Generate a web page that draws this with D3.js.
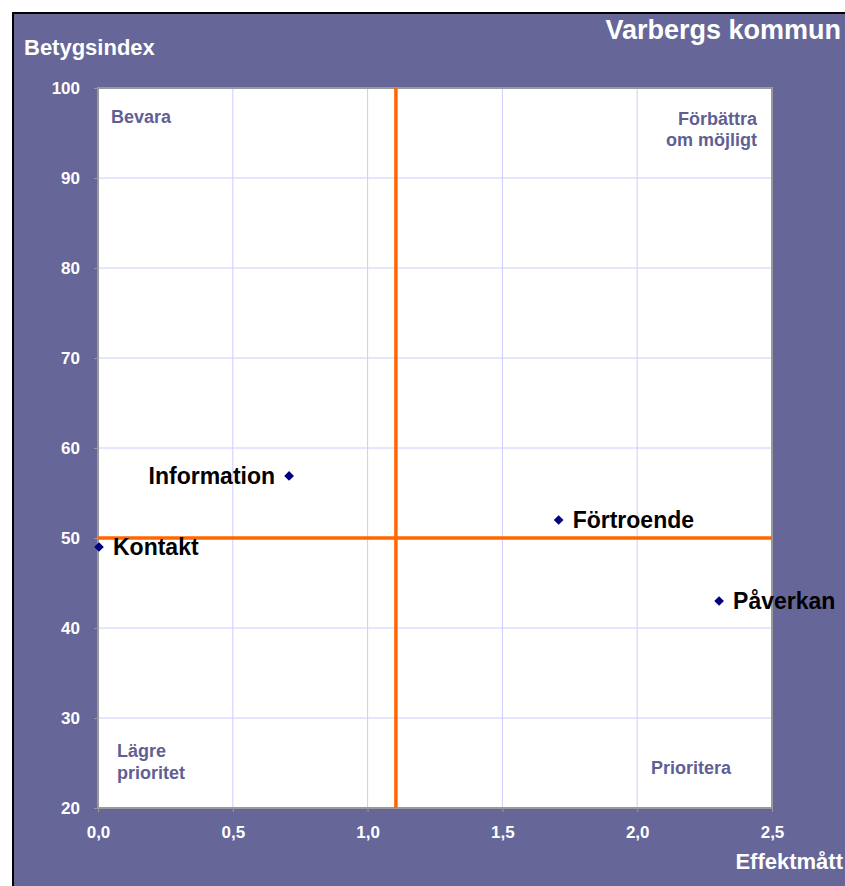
<!DOCTYPE html>
<html>
<head>
<meta charset="utf-8">
<script src="https://cdn.jsdelivr.net/npm/d3@7"></script>
<style>
  body { margin: 0; background: #fff; }
  svg { display: block; font-family: "Liberation Sans", Arial, sans-serif; }
</style>
</head>
<body>
<div id="chart"></div>
<script>
const names = ["Kontakt", "Information", "Förtroende", "Påverkan"];
const effekt = [0.0, 0.705, 1.705, 2.3];
const betyg = [49, 56.9, 52, 43];
const labelSide = ["right", "left", "right", "right"];
const xTicks = [0, 0.5, 1.0, 1.5, 2.0, 2.5];
const yTicks = [20, 30, 40, 50, 60, 70, 80, 90, 100];
const xCross = 1.105;
const yCross = 50;

const width = 845;
const height = 886;
const margin = { top: 88, right: 73, bottom: 78, left: 98 };
const purple = "#666699";

const svg = d3.select("#chart").append("svg")
    .attr("width", width)
    .attr("height", height);

// background frame
svg.append("rect")
    .attr("x", 13).attr("y", 13)
    .attr("width", width).attr("height", height)
    .attr("fill", purple)
    .attr("stroke", "#000")
    .attr("stroke-width", 2);

const x = d3.scaleLinear()
    .domain([0, 2.5])
    .range([margin.left, width - margin.right]);

const y = d3.scaleLinear()
    .domain([20, 100])
    .range([height - margin.bottom, margin.top]);

// plot area
svg.append("rect")
    .attr("x", x(0)).attr("y", y(100))
    .attr("width", x(2.5) - x(0))
    .attr("height", y(20) - y(100))
    .attr("fill", "#fff")
    .attr("stroke", "#999")
    .attr("stroke-width", 2);

// grid
svg.append("g")
    .selectAll("line.vgrid")
    .data(xTicks.slice(1, -1))
    .enter()
    .append("line")
    .attr("x1", d => x(d)).attr("x2", d => x(d))
    .attr("y1", y(100) + 1).attr("y2", y(20) - 1)
    .attr("stroke", "#ccccff")
    .attr("stroke-width", 1);

svg.append("g")
    .selectAll("line.hgrid")
    .data(yTicks.slice(1, -1))
    .enter()
    .append("line")
    .attr("y1", d => y(d)).attr("y2", d => y(d))
    .attr("x1", x(0) + 1).attr("x2", x(2.5) - 1)
    .attr("stroke", "#ccccff")
    .attr("stroke-width", 1);

// axes
const yAxis = svg.append("g")
    .attr("transform", `translate(${x(0)},0)`)
    .call(d3.axisLeft(y).tickValues(yTicks).tickSize(4).tickPadding(14));
yAxis.select(".domain").remove();
yAxis.selectAll("line").attr("stroke", "#999");
yAxis.selectAll("text")
    .attr("fill", "#fff")
    .style("font-size", "17px")
    .style("font-weight", "bold")
    .style("font-family", "Liberation Sans, Arial, sans-serif");

const xAxis = svg.append("g")
    .attr("transform", `translate(0,${y(20)})`)
    .call(d3.axisBottom(x).tickValues(xTicks).tickSize(4).tickPadding(14)
        .tickFormat(d => d3.format(".1f")(d).replace(".", ",")));
xAxis.select(".domain").remove();
xAxis.selectAll("line").attr("stroke", "#999");
xAxis.selectAll("text")
    .attr("fill", "#fff")
    .style("font-size", "17px")
    .style("font-weight", "bold")
    .style("font-family", "Liberation Sans, Arial, sans-serif");

// quadrant lines
svg.append("line")
    .attr("x1", x(xCross)).attr("x2", x(xCross))
    .attr("y1", y(100)).attr("y2", y(20))
    .attr("stroke", "#ff6600")
    .attr("stroke-width", 3.5);

svg.append("line")
    .attr("x1", x(0)).attr("x2", x(2.5))
    .attr("y1", y(yCross)).attr("y2", y(yCross))
    .attr("stroke", "#ff6600")
    .attr("stroke-width", 3.5);

// quadrant labels
const qStyle = sel => sel
    .attr("fill", "#5f5f94")
    .style("font-size", "18px")
    .style("font-weight", "bold");

svg.append("text").attr("x", 111).attr("y", 123).text("Bevara").call(qStyle);
svg.append("text").attr("x", 757).attr("y", 125).attr("text-anchor", "end").text("Förbättra").call(qStyle);
svg.append("text").attr("x", 757).attr("y", 146).attr("text-anchor", "end").text("om möjligt").call(qStyle);
svg.append("text").attr("x", 117).attr("y", 757).text("Lägre").call(qStyle);
svg.append("text").attr("x", 117).attr("y", 779).text("prioritet").call(qStyle);
svg.append("text").attr("x", 651).attr("y", 774).text("Prioritera").call(qStyle);

// titles
svg.append("text")
    .attr("x", 24).attr("y", 55)
    .attr("fill", "#fff")
    .style("font-size", "22px")
    .style("font-weight", "bold")
    .text("Betygsindex");

svg.append("text")
    .attr("x", 841).attr("y", 39)
    .attr("text-anchor", "end")
    .attr("fill", "#fff")
    .style("font-size", "27px")
    .style("font-weight", "bold")
    .text("Varbergs kommun");

svg.append("text")
    .attr("x", 843).attr("y", 869)
    .attr("text-anchor", "end")
    .attr("fill", "#fff")
    .style("font-size", "22px")
    .style("font-weight", "bold")
    .text("Effektmått");

// points
const data = names.map((n, i) => ({ name: n, x: effekt[i], y: betyg[i], side: labelSide[i] }));

svg.append("g")
    .selectAll("path.point")
    .data(data)
    .enter()
    .append("path")
    .attr("d", d3.symbol().type(d3.symbolDiamond2).size(60))
    .attr("transform", d => `translate(${x(d.x) + 1},${y(d.y)})`)
    .attr("fill", "#000080");

svg.append("g")
    .selectAll("text.label")
    .data(data)
    .enter()
    .append("text")
    .attr("x", d => d.side === "right" ? x(d.x) + 15 : x(d.x) - 13)
    .attr("y", d => y(d.y) + 8)
    .attr("text-anchor", d => d.side === "right" ? "start" : "end")
    .attr("fill", "#000")
    .style("font-size", "23px")
    .style("font-weight", "bold")
    .text(d => d.name);
</script>
</body>
</html>
